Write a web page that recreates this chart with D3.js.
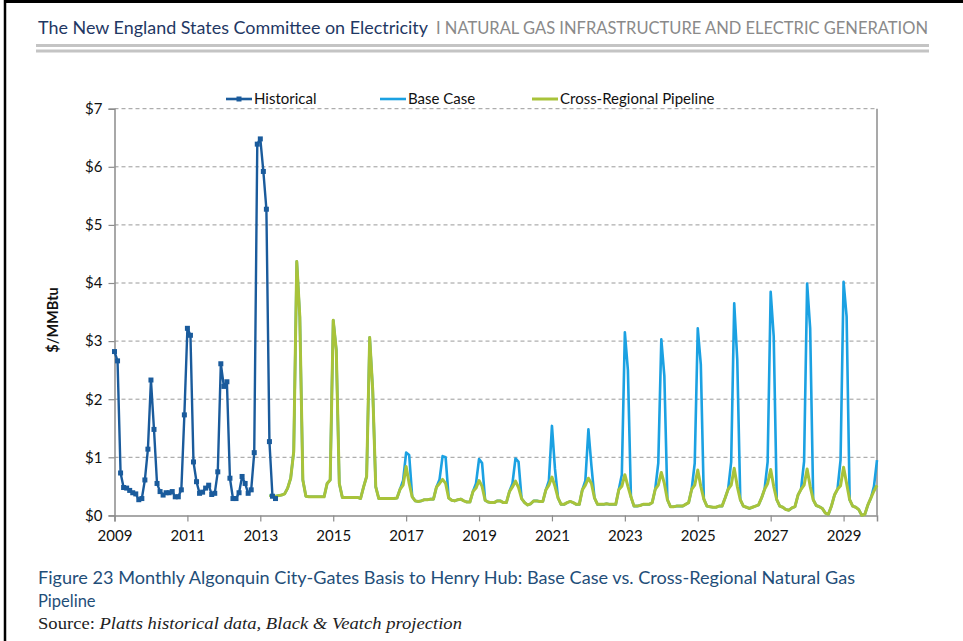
<!DOCTYPE html>
<html>
<head>
<meta charset="utf-8">
<script src="https://cdn.jsdelivr.net/npm/d3@7"></script>
<style>
  body { margin: 0; background: #fff; }
  svg { display: block; }
</style>
</head>
<body>
<script>
// x tick labels (January of odd years) and y ticks
var tickYears = [2009, 2011, 2013, 2015, 2017, 2019, 2021, 2023, 2025, 2027, 2029];
var yTicks = [0, 1, 2, 3, 4, 5, 6, 7];

// months run Jan 2009 .. Dec 2029
var startYear = 2009, endYear = 2029;

// Historical, monthly from Jan 2009 to Jun 2013
var historical = [
    2.82, 2.66, 0.73, 0.48, 0.47, 0.43, 0.39, 0.37, 0.27, 0.29, 0.61, 1.14,
    2.33, 1.48, 0.55, 0.41, 0.35, 0.39, 0.39, 0.41, 0.32, 0.32, 0.44, 1.73,
    3.22, 3.10, 0.92, 0.58, 0.38, 0.40, 0.47, 0.52, 0.36, 0.38, 0.75, 2.61,
    2.22, 2.30, 0.64, 0.29, 0.29, 0.39, 0.67, 0.55, 0.38, 0.44, 1.08, 6.39,
    6.48, 5.92, 5.27, 1.27, 0.33, 0.29
];

// projections start Apr 2013
var projStart = 51;
var baseCase = [
    /*2013*/ 0.35, 0.33, 0.33, 0.34, 0.35, 0.37, 0.47, 0.64, 1.10,
    /*2014*/ 4.37, 3.42, 0.61, 0.33, 0.32, 0.32, 0.32, 0.32, 0.32, 0.32, 0.55, 0.61,
    /*2015*/ 3.36, 2.85, 0.55, 0.31, 0.31, 0.31, 0.31, 0.31, 0.31, 0.29, 0.49, 0.67,
    /*2016*/ 3.06, 2.16, 0.49, 0.29, 0.29, 0.29, 0.29, 0.29, 0.29, 0.30, 0.45, 0.60,
    /*2017*/ 1.08, 1.04, 0.32, 0.25, 0.24, 0.25, 0.27, 0.27, 0.28, 0.28, 0.49, 0.62,
    /*2018*/ 1.02, 1.00, 0.30, 0.26, 0.25, 0.27, 0.28, 0.25, 0.23, 0.23, 0.41, 0.55,
    /*2019*/ 0.97, 0.90, 0.26, 0.23, 0.22, 0.22, 0.25, 0.25, 0.22, 0.22, 0.41, 0.55,
    /*2020*/ 0.98, 0.92, 0.29, 0.22, 0.18, 0.20, 0.25, 0.25, 0.24, 0.24, 0.44, 0.60,
    /*2021*/ 1.54, 0.80, 0.30, 0.19, 0.19, 0.22, 0.24, 0.22, 0.19, 0.19, 0.44, 0.60,
    /*2022*/ 1.48, 0.85, 0.30, 0.19, 0.19, 0.19, 0.20, 0.19, 0.19, 0.19, 0.44, 0.70,
    /*2023*/ 3.15, 2.50, 0.32, 0.16, 0.16, 0.17, 0.19, 0.19, 0.19, 0.22, 0.45, 0.90,
    /*2024*/ 3.03, 2.40, 0.27, 0.15, 0.15, 0.16, 0.16, 0.16, 0.19, 0.22, 0.45, 0.90,
    /*2025*/ 3.22, 2.60, 0.28, 0.16, 0.15, 0.14, 0.14, 0.16, 0.16, 0.30, 0.45, 0.92,
    /*2026*/ 3.65, 2.68, 0.27, 0.16, 0.14, 0.12, 0.14, 0.16, 0.18, 0.30, 0.45, 0.92,
    /*2027*/ 3.85, 3.08, 0.27, 0.16, 0.14, 0.10, 0.09, 0.13, 0.15, 0.35, 0.45, 0.93,
    /*2028*/ 3.99, 3.22, 0.27, 0.17, 0.15, 0.12, 0.04, 0.02, 0.16, 0.35, 0.45, 0.95,
    /*2029*/ 4.02, 3.42, 0.27, 0.16, 0.14, 0.10, 0.00, 0.02, 0.18, 0.30, 0.50, 0.95
];
var crossRegional = [
    /*2013*/ 0.35, 0.33, 0.33, 0.34, 0.35, 0.37, 0.47, 0.64, 1.10,
    /*2014*/ 4.37, 3.42, 0.61, 0.33, 0.32, 0.32, 0.32, 0.32, 0.32, 0.32, 0.55, 0.61,
    /*2015*/ 3.36, 2.85, 0.55, 0.31, 0.31, 0.31, 0.31, 0.31, 0.31, 0.29, 0.49, 0.67,
    /*2016*/ 3.06, 2.16, 0.49, 0.29, 0.29, 0.29, 0.29, 0.29, 0.29, 0.30, 0.45, 0.52,
    /*2017*/ 0.84, 0.55, 0.32, 0.25, 0.24, 0.25, 0.27, 0.27, 0.28, 0.28, 0.49, 0.55,
    /*2018*/ 0.62, 0.55, 0.30, 0.26, 0.25, 0.27, 0.28, 0.25, 0.23, 0.23, 0.41, 0.47,
    /*2019*/ 0.60, 0.50, 0.26, 0.23, 0.22, 0.22, 0.25, 0.25, 0.22, 0.22, 0.41, 0.49,
    /*2020*/ 0.59, 0.48, 0.29, 0.22, 0.18, 0.20, 0.25, 0.25, 0.24, 0.24, 0.44, 0.52,
    /*2021*/ 0.66, 0.50, 0.30, 0.19, 0.19, 0.22, 0.24, 0.22, 0.19, 0.19, 0.44, 0.52,
    /*2022*/ 0.64, 0.55, 0.30, 0.19, 0.19, 0.19, 0.20, 0.19, 0.19, 0.19, 0.44, 0.50,
    /*2023*/ 0.70, 0.50, 0.32, 0.16, 0.16, 0.17, 0.19, 0.19, 0.19, 0.22, 0.45, 0.52,
    /*2024*/ 0.74, 0.55, 0.27, 0.15, 0.15, 0.16, 0.16, 0.16, 0.19, 0.22, 0.45, 0.52,
    /*2025*/ 0.78, 0.50, 0.28, 0.16, 0.15, 0.14, 0.14, 0.16, 0.16, 0.30, 0.45, 0.52,
    /*2026*/ 0.81, 0.50, 0.27, 0.16, 0.14, 0.12, 0.14, 0.16, 0.18, 0.30, 0.45, 0.55,
    /*2027*/ 0.79, 0.50, 0.27, 0.16, 0.14, 0.10, 0.09, 0.13, 0.15, 0.35, 0.45, 0.52,
    /*2028*/ 0.80, 0.50, 0.27, 0.17, 0.15, 0.12, 0.04, 0.02, 0.16, 0.35, 0.45, 0.51,
    /*2029*/ 0.83, 0.55, 0.27, 0.16, 0.14, 0.10, 0.00, 0.02, 0.18, 0.30, 0.42, 0.52
];

var seriesNames = ['Historical', 'Base Case', 'Cross-Regional Pipeline'];

// colours
var colorHist = '#1a5b9c',
    colorBase = '#1ba1e2',
    colorCross = '#a8c33a',
    colorNavy = '#1f3864',
    colorGrid = '#9a9a9a';

var W = 963, H = 641;
var svg = d3.select('body').append('svg')
    .attr('width', W)
    .attr('height', H)
    .style('font-family', 'Lato, "Open Sans", sans-serif');

// page frame
svg.append('line').attr('x1', 5).attr('y1', 0).attr('x2', 5).attr('y2', H)
    .attr('stroke', '#000').attr('stroke-width', 2.5);
svg.append('line').attr('x1', 4).attr('y1', 1.5).attr('x2', W).attr('y2', 1.5)
    .attr('stroke', '#000').attr('stroke-width', 3);

// header
svg.append('text').attr('x', 38).attr('y', 34)
    .style('font-size', '17.5px')
    .attr('fill', colorNavy)
    .attr('textLength', 390).attr('lengthAdjust', 'spacingAndGlyphs')
    .text('The New England States Committee on Electricity');
svg.append('text').attr('x', 436).attr('y', 34)
    .style('font-size', '17.5px')
    .attr('fill', '#8a8a8a')
    .attr('textLength', 492).attr('lengthAdjust', 'spacingAndGlyphs')
    .text('I NATURAL GAS INFRASTRUCTURE AND ELECTRIC GENERATION');
svg.append('rect').attr('x', 36).attr('y', 44).attr('width', 893).attr('height', 3).attr('fill', '#c4c4c4');
svg.append('rect').attr('x', 36).attr('y', 49.5).attr('width', 893).attr('height', 3).attr('fill', '#c4c4c4');

// plot scales
var nMonths = (endYear - startYear + 1) * 12;
var x = d3.scaleLinear().domain([0, nMonths - 1]).range([114.5, 877]);
var y = d3.scaleLinear().domain([0, 7]).range([515.4, 108.7]);

// gridlines
svg.append('g').selectAll('line').data(yTicks.filter(function (d) { return d > 0; })).enter()
    .append('line')
    .attr('x1', x(0)).attr('x2', x(nMonths - 1))
    .attr('y1', function (d) { return y(d); })
    .attr('y2', function (d) { return y(d); })
    .attr('stroke', colorGrid)
    .attr('stroke-width', 1)
    .attr('stroke-dasharray', '4,3');

// right border of plot area
svg.append('line')
    .attr('x1', x(nMonths - 1)).attr('x2', x(nMonths - 1))
    .attr('y1', y(7)).attr('y2', y(0))
    .attr('stroke', '#8c8c8c').attr('stroke-width', 1.5);

// axes
var yAxis = svg.append('g')
    .attr('transform', 'translate(' + x(0) + ',0)')
    .call(d3.axisLeft(y).tickValues(yTicks).tickSize(6).tickPadding(5)
        .tickFormat(function (d) { return '$' + d; }));
var xAxis = svg.append('g')
    .attr('transform', 'translate(0,' + y(0) + ')')
    .call(d3.axisBottom(x)
        .tickValues(tickYears.map(function (yr) { return (yr - startYear) * 12; }))
        .tickSize(6).tickPadding(6)
        .tickFormat(function (d) { return startYear + d / 12; }));
[xAxis, yAxis].forEach(function (g) {
    g.select('.domain').attr('stroke', '#8c8c8c').attr('stroke-width', 1.5);
    g.selectAll('.tick line').attr('stroke', '#8c8c8c').attr('stroke-width', 1.2);
    g.selectAll('.tick text').attr('fill', '#111').style('font-size', '15px')
        .style('font-family', 'Lato, "Open Sans", sans-serif');
});
xAxis.selectAll('.tick text').attr('dy', '0.9em');
yAxis.selectAll('.tick text').attr('dx', '-1');

// axis title
svg.append('text')
    .attr('transform', 'translate(58,' + 320 + ') rotate(-90)')
    .attr('text-anchor', 'middle')
    .style('font-size', '14.5px')
    .style('font-weight', 'bold')
    .attr('fill', '#111')
    .text('$/MMBtu');

// series
var line = d3.line()
    .x(function (d) { return x(d.i); })
    .y(function (d) { return y(d.v); });

function toPoints(arr, offset) {
    return arr.map(function (v, k) { return { i: k + offset, v: v }; });
}

var histPts = toPoints(historical, 0);
var basePts = toPoints(baseCase, projStart);
var crossPts = toPoints(crossRegional, projStart);

svg.append('path').datum(basePts)
    .attr('d', line).attr('fill', 'none')
    .attr('stroke', colorBase).attr('stroke-width', 2.6).attr('stroke-linejoin', 'round');
svg.append('path').datum(crossPts)
    .attr('d', line).attr('fill', 'none')
    .attr('stroke', colorCross).attr('stroke-width', 3).attr('stroke-linejoin', 'round');
svg.append('path').datum(histPts)
    .attr('d', line).attr('fill', 'none')
    .attr('stroke', colorHist).attr('stroke-width', 2.4).attr('stroke-linejoin', 'round');
svg.append('g').selectAll('rect').data(histPts).enter()
    .append('rect')
    .attr('x', function (d) { return x(d.i) - 2.5; })
    .attr('y', function (d) { return y(d.v) - 2.5; })
    .attr('width', 5).attr('height', 5)
    .attr('fill', colorHist);

// legend
var legendX = [226, 380, 532];
var legendColors = [colorHist, colorBase, colorCross];
var legend = svg.append('g').selectAll('g').data(seriesNames).enter()
    .append('g')
    .attr('transform', function (d, i) { return 'translate(' + legendX[i] + ',99)'; });
legend.append('line')
    .attr('x1', 0).attr('x2', 26).attr('y1', 0).attr('y2', 0)
    .attr('stroke', function (d, i) { return legendColors[i]; })
    .attr('stroke-width', function (d, i) { return i === 2 ? 3 : 2.6; });
legend.filter(function (d, i) { return i === 0; }).append('rect')
    .attr('x', 10.5).attr('y', -2.5).attr('width', 5).attr('height', 5)
    .attr('fill', colorHist);
legend.append('text')
    .attr('x', 28).attr('y', 5)
    .style('font-size', '15px')
    .attr('fill', '#111')
    .text(function (d) { return d; });

// caption
var cap = svg.append('g').attr('fill', '#1f4e79').style('font-size', '16.5px');
cap.append('text').attr('x', 38).attr('y', 584)
    .attr('textLength', 817).attr('lengthAdjust', 'spacingAndGlyphs')
    .text('Figure 23 Monthly Algonquin City-Gates Basis to Henry Hub: Base Case vs. Cross-Regional Natural Gas');
cap.append('text').attr('x', 38).attr('y', 607).text('Pipeline');

var src = svg.append('text').attr('x', 38).attr('y', 629)
    .style('font-family', '"Liberation Serif", "DejaVu Serif", serif')
    .style('font-size', '16.5px')
    .attr('fill', '#222')
    .attr('textLength', 424).attr('lengthAdjust', 'spacingAndGlyphs');
src.append('tspan').text('Source: ');
src.append('tspan').style('font-style', 'italic')
    .text('Platts historical data, Black & Veatch projection');
</script>
</body>
</html>
